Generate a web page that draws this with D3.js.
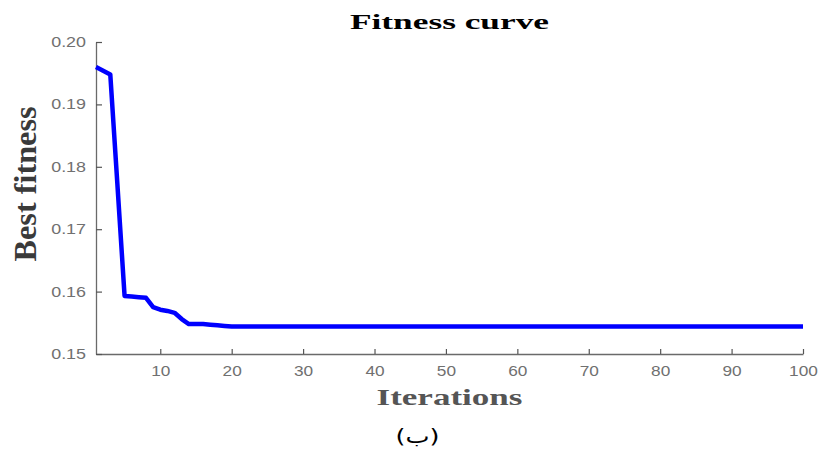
<!DOCTYPE html>
<html>
<head>
<meta charset="utf-8">
<script src="https://cdn.jsdelivr.net/npm/d3@7"></script>
<style>
  body { margin: 0; background: #fff; }
  svg { display: block; }
</style>
</head>
<body>
<div id="chart"></div>
<script>
// best fitness per iteration (flat at 0.1544 from iteration 20 to 100)
let iterations = [1, 2, 3, 4, 5, 6, 7, 8, 9, 10, 11, 12, 13, 14, 15, 16, 17, 18, 19, 20, 100];
let bestFitness = [0.1960, 0.1954, 0.1948, 0.1771, 0.1593, 0.1592, 0.1591, 0.1590, 0.1575, 0.1571,
                   0.1569, 0.1566, 0.1556, 0.1548, 0.1548, 0.1548, 0.1547, 0.1546, 0.1545, 0.1544, 0.1544];
let xTicks = [10, 20, 30, 40, 50, 60, 70, 80, 90, 100];
let yTicks = [0.15, 0.16, 0.17, 0.18, 0.19, 0.20];

let W = 818, H = 453;
let margin = {top: 42, right: 15, bottom: 99, left: 96};

let svg = d3.select("#chart")
            .append("svg")
            .attr("width", W)
            .attr("height", H);

let x = d3.scaleLinear()
          .domain([1, 100])
          .range([margin.left, W - margin.right]);

let y = d3.scaleLinear()
          .domain([0.15, 0.20])
          .range([H - margin.bottom, margin.top]);

// matlab style: ticks point inward, no box
let xAxis = svg.append("g")
   .attr("transform", "translate(0," + (H - margin.bottom) + ")")
   .call(d3.axisBottom(x).tickValues(xTicks).tickSizeInner(-5).tickSizeOuter(0).tickPadding(12));

let yAxis = svg.append("g")
   .attr("transform", "translate(" + margin.left + ",0)")
   .call(d3.axisLeft(y).tickValues(yTicks).tickFormat(d3.format(".2f")).tickSizeInner(-6).tickSizeOuter(0).tickPadding(10));

[xAxis, yAxis].forEach(a => {
  a.select(".domain").attr("stroke", "#6a6a6a").attr("stroke-width", 1.3);
  a.selectAll(".tick line").attr("stroke", "#555").attr("stroke-width", 1.2);
  a.selectAll("text")
   .attr("fill", "#707070")
   .style("font-family", "'Liberation Sans', Arial, sans-serif")
   .style("font-size", "14px")
   .attr("lengthAdjust", "spacingAndGlyphs")
   .attr("textLength", function() {
     let t = d3.select(this).text();
     return t.replace(/\./g, "").length * 9.6 + (t.indexOf(".") >= 0 ? 6 : 0);
   });
});
xAxis.selectAll("text").attr("y", 12).attr("dy", "0.71em");

// the fitness line
let pts = iterations.map((d, i) => [d, bestFitness[i]]);
svg.append("path")
   .datum(pts)
   .attr("fill", "none")
   .attr("stroke", "#0000ff")
   .attr("stroke-width", 4.5)
   .attr("stroke-linejoin", "round")
   .attr("d", d3.line().x(d => x(d[0])).y(d => y(d[1])));

// title
svg.append("text")
   .attr("x", 449.5)
   .attr("y", 29)
   .attr("text-anchor", "middle")
   .attr("textLength", 199)
   .attr("lengthAdjust", "spacingAndGlyphs")
   .style("font-family", "'Liberation Serif', 'Times New Roman', serif")
   .style("font-weight", "bold")
   .style("font-size", "21px")
   .attr("fill", "#000")
   .text("Fitness curve");

// x label
svg.append("text")
   .attr("x", 449.5)
   .attr("y", 405)
   .attr("text-anchor", "middle")
   .attr("textLength", 146)
   .attr("lengthAdjust", "spacingAndGlyphs")
   .style("font-family", "'Liberation Serif', 'Times New Roman', serif")
   .style("font-weight", "bold")
   .style("font-size", "24px")
   .attr("fill", "#555")
   .text("Iterations");

// y label
svg.append("text")
   .attr("transform", "translate(36,184) rotate(-90)")
   .attr("text-anchor", "middle")
   .attr("textLength", 155)
   .attr("lengthAdjust", "spacingAndGlyphs")
   .style("font-family", "'Liberation Serif', 'Times New Roman', serif")
   .style("font-weight", "bold")
   .style("font-size", "32px")
   .attr("fill", "#3a3a3a")
   .text("Best fitness");

// caption
svg.append("text")
   .attr("x", 417.5)
   .attr("y", 443)
   .attr("text-anchor", "middle")
   .attr("textLength", 44)
   .attr("lengthAdjust", "spacingAndGlyphs")
   .style("font-family", "'DejaVu Sans', 'Noto Sans', sans-serif")
   .style("font-size", "19px")
   .attr("fill", "#000")
   .text("(ب)");
</script>
</body>
</html>
